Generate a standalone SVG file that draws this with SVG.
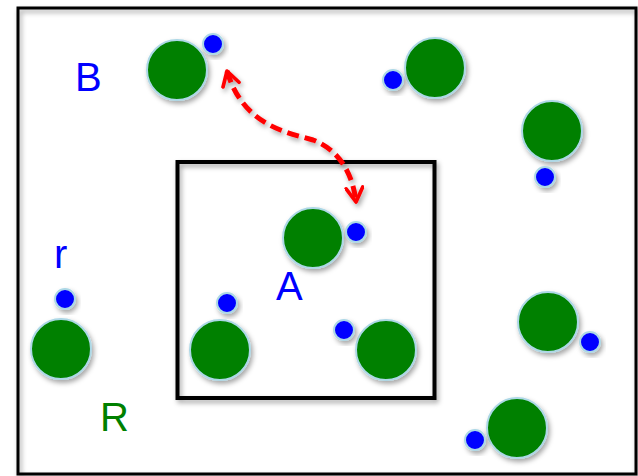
<svg xmlns="http://www.w3.org/2000/svg" width="638" height="476" viewBox="0 0 638 476">
<defs>
<filter id="sh" x="-30%" y="-30%" width="160%" height="160%">
<feDropShadow dx="2" dy="3" stdDeviation="2.5" flood-color="#000" flood-opacity="0.35"/>
</filter>
<marker id="ah" viewBox="0 0 12 12" refX="10" refY="6" markerWidth="4" markerHeight="4" orient="auto-start-reverse" markerUnits="strokeWidth">
<path d="M1.5,1 L10,6 L1.5,11" fill="none" stroke="#f00" stroke-width="2.2" stroke-linecap="round" stroke-linejoin="round"/>
</marker>
<style>
.box{fill:none;stroke:#000;filter:url(#sh)}
.big{fill:#008000;stroke:#add8e6;stroke-width:2;filter:url(#sh)}
.sm{fill:#0000ff;stroke:#add8e6;stroke-width:2;filter:url(#sh)}
.lbl{font-family:"Liberation Sans",Arial,sans-serif;font-size:40px}
.blue{fill:#0000ff}
.green{fill:#008000}
</style>
</defs>
<rect x="0" y="0" width="638" height="476" fill="#fff"/>
<rect id="outer" class="box" x="18" y="8" width="618" height="466" stroke-width="3"/>
<rect id="inner" class="box" x="177.5" y="162" width="257" height="236" stroke-width="4"/>
<g id="n1"><circle class="big" cx="177" cy="70" r="30"/><circle class="sm" cx="213" cy="44" r="10"/></g>
<g id="n2"><circle class="big" cx="435" cy="68" r="30"/><circle class="sm" cx="393" cy="80" r="10"/></g>
<g id="n3"><circle class="big" cx="552" cy="131" r="30"/><circle class="sm" cx="545" cy="177" r="10"/></g>
<g id="n4"><circle class="big" cx="313" cy="238" r="30"/><circle class="sm" cx="356" cy="232" r="10"/></g>
<g id="n5"><circle class="big" cx="61" cy="349" r="30"/><circle class="sm" cx="65" cy="299" r="10"/></g>
<g id="n6"><circle class="big" cx="220" cy="350" r="30"/><circle class="sm" cx="227" cy="303" r="10"/></g>
<g id="n7"><circle class="big" cx="386" cy="350" r="30"/><circle class="sm" cx="344" cy="330" r="10"/></g>
<g id="n8"><circle class="big" cx="548" cy="322" r="30"/><circle class="sm" cx="590" cy="342" r="10"/></g>
<g id="n9"><circle class="big" cx="517" cy="428" r="30"/><circle class="sm" cx="475" cy="440" r="10"/></g>
<g id="labels">
<text class="lbl blue" x="75" y="91">B</text>
<text class="lbl blue" x="54" y="268">r</text>
<text class="lbl blue" x="276" y="300">A</text>
<text class="lbl green" x="100" y="431">R</text>
</g>
<g id="connectors">
<path d="M227,71 C243,125 285,132 313,140 C340,150 353,175 356,202" fill="none" stroke="#f00" stroke-width="5" stroke-dasharray="12,6" marker-start="url(#ah)" marker-end="url(#ah)" filter="url(#sh)"/>
</g>
</svg>
